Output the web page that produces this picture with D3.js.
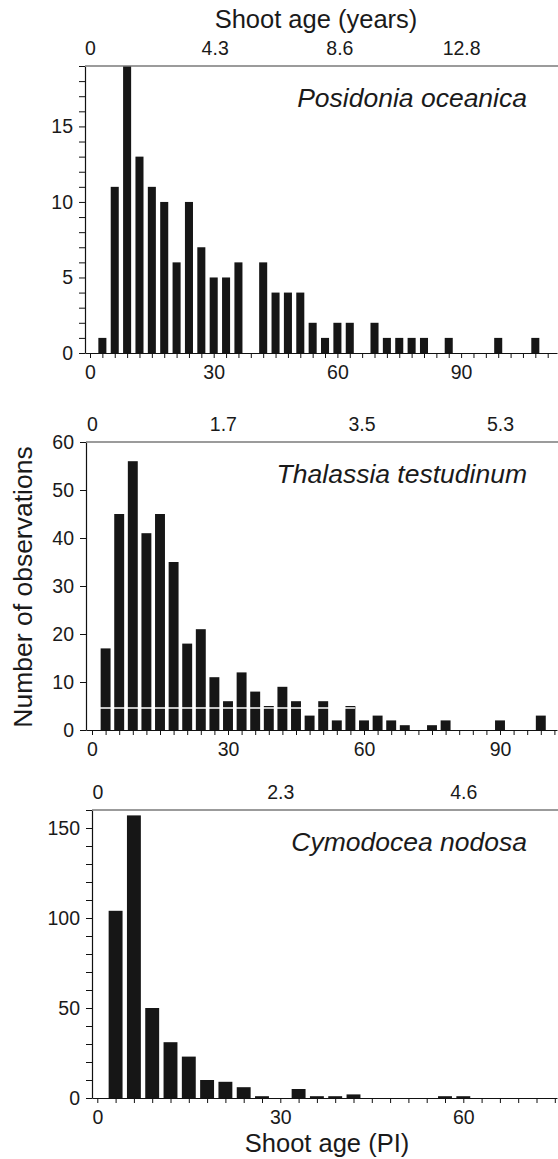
<!DOCTYPE html>
<html>
<head>
<meta charset="utf-8">
<script src="https://cdn.jsdelivr.net/npm/d3@7"></script>
<style>
  body { margin: 0; background: #fff; }
  svg text { font-family: "Liberation Sans", Arial, Helvetica, sans-serif; fill: #1a1a1a; }
</style>
</head>
<body>
<div id="chart"></div>
<script>
// Posidonia oceanica
const posidoniaBins   = [3, 6, 9, 12, 15, 18, 21, 24, 27, 30, 33, 36, 39, 42, 45, 48, 51, 54, 57, 60, 63, 66, 69, 72, 75, 78, 81, 84, 87, 90, 93, 96, 99, 102, 105, 108];
const posidoniaCounts = [1, 11, 19, 13, 11, 10, 6, 10, 7, 5, 5, 6, 0, 6, 4, 4, 4, 2, 1, 2, 2, 0, 2, 1, 1, 1, 1, 0, 1, 0, 0, 0, 1, 0, 0, 1];
const posidoniaYears  = [0, 4.3, 8.6, 12.8];

// Thalassia testudinum
const thalassiaBins   = [3, 6, 9, 12, 15, 18, 21, 24, 27, 30, 33, 36, 39, 42, 45, 48, 51, 54, 57, 60, 63, 66, 69, 72, 75, 78, 81, 84, 87, 90, 93, 96, 99];
const thalassiaCounts = [17, 45, 56, 41, 45, 35, 18, 21, 11, 6, 12, 8, 5, 9, 6, 3, 6, 2, 5, 2, 3, 2, 1, 0, 1, 2, 0, 0, 0, 2, 0, 0, 3];
const thalassiaYears  = [0, 1.7, 3.5, 5.3];

// Cymodocea nodosa
const cymodoceaBins   = [3, 6, 9, 12, 15, 18, 21, 24, 27, 30, 33, 36, 39, 42, 45, 48, 51, 54, 57, 60];
const cymodoceaCounts = [104, 157, 50, 31, 23, 10, 9, 6, 1, 0, 5, 1, 1, 2, 0, 0, 0, 0, 1, 1];
const cymodoceaYears  = [0, 2.3, 4.6];

const W = 558, H = 1159;
const svg = d3.select("#chart").append("svg")
  .attr("width", W)
  .attr("height", H);

// layout per panel: left axis x, pixel of PI 0 and PI 30, top/bottom of plot
const panels = [
  { name: "Posidonia oceanica", bins: posidoniaBins, counts: posidoniaCounts, years: posidoniaYears, yearsAt: 90,
    left: 85, px0: 90, px30: 213.7, top: 66, bottom: 353, yMax: 19, yLabels: [0, 5, 10, 15], yStep: 1, barFrac: 0.65 },
  { name: "Thalassia testudinum", bins: thalassiaBins, counts: thalassiaCounts, years: thalassiaYears, yearsAt: 90,
    left: 86, px0: 92, px30: 228, top: 442, bottom: 730, yMax: 60, yLabels: [0, 10, 20, 30, 40, 50, 60], yStep: 10, barFrac: 0.73 },
  { name: "Cymodocea nodosa", bins: cymodoceaBins, counts: cymodoceaCounts, years: cymodoceaYears, yearsAt: 60,
    left: 92, px0: 97.3, px30: 280.3, top: 810, bottom: 1098, yMax: 160, yLabels: [0, 50, 100, 150], yStep: 10, barFrac: 0.76 }
];

const right = 557;

panels.forEach((p, i) => {
  const g = svg.append("g");

  // PI scale, extended so that it runs from the left axis to the right edge
  const x = d3.scaleLinear().domain([0, 30]).range([p.px0, p.px30]);
  x.domain([x.invert(p.left), x.invert(right)]).range([p.left, right]);

  const y = d3.scaleLinear().domain([0, p.yMax]).range([p.bottom, p.top]);

  // years scale for the top axis, same ends as PI 0 .. yearsAt
  const yr = d3.scaleLinear()
    .domain([0, p.years[p.years.length - 1]])
    .range([x(0), x(p.yearsAt)]);

  // bars
  const bw = x(3 * p.barFrac) - x(0);
  g.selectAll("rect.bar")
    .data(p.bins.map((b, k) => ({ bin: b, n: p.counts[k] })).filter(d => d.n > 0))
    .enter().append("rect")
      .attr("class", "bar")
      .attr("x", d => x(d.bin) - bw / 2)
      .attr("y", d => y(d.n))
      .attr("width", bw)
      .attr("height", d => y(0) - y(d.n))
      .attr("fill", "#161616");

  // scan artefact in the Thalassia panel: white line through the bars
  if (i === 1) {
    g.append("line")
      .attr("x1", x(0)).attr("x2", x(58))
      .attr("y1", y(4.6)).attr("y2", y(4.6))
      .attr("stroke", "#fff")
      .attr("stroke-width", 1.5);
  }

  // bottom axis, ticks every 3 PI, labels every 30
  const xTicks = d3.range(0, x.domain()[1], 3);
  g.append("g")
    .attr("transform", `translate(0,${p.bottom})`)
    .call(d3.axisBottom(x).tickValues(xTicks).tickSize(5).tickSizeOuter(0).tickPadding(7)
      .tickFormat(d => d % 30 === 0 ? d : ""))
    .call(a => a.select(".domain").attr("stroke", "#111").attr("stroke-width", 1.2))
    .call(a => a.selectAll(".tick line").attr("stroke", "#111"))
    .call(a => a.selectAll("text").attr("font-size", "19.5px").attr("fill", "#1a1a1a"));

  // left axis
  const yTicks = d3.range(0, p.yMax + 0.001, p.yStep);
  g.append("g")
    .attr("transform", `translate(${p.left},0)`)
    .call(d3.axisLeft(y).tickValues(yTicks).tickSize(6).tickSizeOuter(0).tickPadding(6)
      .tickFormat(d => p.yLabels.includes(d) ? d : ""))
    .call(a => a.select(".domain").attr("stroke", "#111").attr("stroke-width", 1.2))
    .call(a => a.selectAll(".tick line").attr("stroke", "#111"))
    .call(a => a.selectAll("text").attr("font-size", "19.5px").attr("fill", "#1a1a1a"));

  // top axis: grey line with year labels
  g.append("g")
    .attr("transform", `translate(0,${p.top})`)
    .call(d3.axisTop(yr).tickValues(p.years).tickSize(0).tickPadding(11)
      .tickFormat(d => d))
    .call(a => a.select(".domain").remove())
    .call(a => a.selectAll("text").attr("font-size", "19.5px").attr("fill", "#1a1a1a"));

  g.append("line")
    .attr("x1", p.left).attr("x2", right + 1)
    .attr("y1", p.top).attr("y2", p.top)
    .attr("stroke", "#7a7a7a")
    .attr("stroke-width", 1.4);

  // species name
  g.append("text")
    .attr("x", 527)
    .attr("y", p.top + 41)
    .attr("text-anchor", "end")
    .attr("font-size", "26.5px")
    .attr("font-style", "italic")
    .text(p.name);
});

// axis titles
svg.append("text")
  .attr("x", 316)
  .attr("y", 28)
  .attr("text-anchor", "middle")
  .attr("font-size", "25.5px")
  .text("Shoot age (years)");

svg.append("text")
  .attr("x", 327)
  .attr("y", 1152)
  .attr("text-anchor", "middle")
  .attr("font-size", "25.5px")
  .text("Shoot age (PI)");

svg.append("text")
  .attr("transform", "rotate(-90)")
  .attr("x", -587)
  .attr("y", 32)
  .attr("text-anchor", "middle")
  .attr("font-size", "26.5px")
  .text("Number of observations");
</script>
</body>
</html>
